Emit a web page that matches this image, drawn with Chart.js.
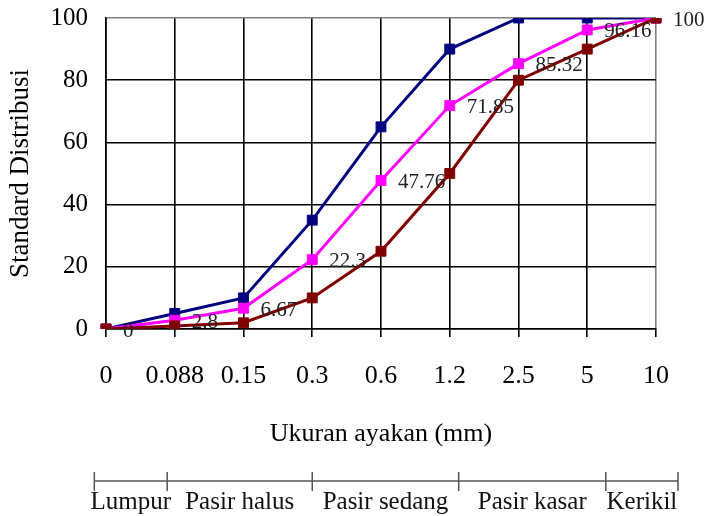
<!DOCTYPE html>
<html>
<head>
<meta charset="utf-8">
<script src="https://cdn.jsdelivr.net/npm/chart.js@4.4.1/dist/chart.umd.min.js"></script>
<style>
  html, body { margin: 0; padding: 0; background: #fff; }
</style>
</head>
<body>
<canvas id="chart" width="708" height="516"></canvas>
<script>
// ukuran ayakan (mm) dan persen lolos
const sieveSizes = ["0", "0.088", "0.15", "0.3", "0.6", "1.2", "2.5", "5", "10"];
const upperLimit = [0, 5, 10, 35, 65, 90, 100, 100, 100];
const sampleGrading = [0, 2.8, 6.67, 22.3, 47.76, 71.85, 85.32, 96.16, 100];
const lowerLimit = [0, 1, 2, 10, 25, 50, 80, 90, 100];
const yTicks = [0, 20, 40, 60, 80, 100];

// pembagian jenis butiran (batas dalam satuan indeks kategori)
const soilClasses = ["Lumpur", "Pasir halus", "Pasir sedang", "Pasir kasar", "Kerikil"];
const classEdges = [-0.17, 0.89, 3.0, 5.13, 7.27, 8.32];

const serif = "'Liberation Serif', 'Times New Roman', serif";

//label angka untuk garis magenta
const valueLabels = {
  id: "valueLabels",
  afterDatasetsDraw(chart) {
    const ctx = chart.ctx;
    const meta = chart.getDatasetMeta(1);
    ctx.save();
    ctx.font = "21px " + serif;
    ctx.fillStyle = "#222";
    ctx.textAlign = "left";
    ctx.textBaseline = "middle";
    meta.data.forEach((pt, i) => {
      ctx.fillText(String(sampleGrading[i]), pt.x + 17, pt.y + 2);
    });
    ctx.restore();
  },
};

//garis jenis tanah di bawah grafik
const soilBand = {
  id: "soilBand",
  afterDraw(chart) {
    const ctx = chart.ctx;
    const xs = chart.scales.x;
    const lineY = chart.height - 35;
    const px = classEdges.map((e) => xs.getPixelForValue(e));
    ctx.save();
    ctx.strokeStyle = "#555";
    ctx.lineWidth = 1.5;
    ctx.beginPath();
    ctx.moveTo(px[0], lineY);
    ctx.lineTo(px[px.length - 1], lineY);
    px.forEach((x) => {
      ctx.moveTo(x, lineY - 9);
      ctx.lineTo(x, lineY + 10);
    });
    ctx.stroke();
    ctx.font = "25px " + serif;
    ctx.fillStyle = "#111";
    ctx.textAlign = "center";
    ctx.textBaseline = "alphabetic";
    soilClasses.forEach((name, i) => {
      const mid = (px[i] + px[i + 1]) / 2;
      ctx.fillText(name, mid, lineY + 28);
    });
    ctx.restore();
  },
};

const data = {
  labels: sieveSizes,
  datasets: [
    {
      label: "Batas atas",
      data: upperLimit,
      borderColor: "#000080",
      backgroundColor: "#000080",
      order: 2,
    },
    {
      label: "Contoh",
      data: sampleGrading,
      borderColor: "#ff00ff",
      backgroundColor: "#ff00ff",
      order: 1,
    },
    {
      label: "Batas bawah",
      data: lowerLimit,
      borderColor: "#800000",
      backgroundColor: "#800000",
      order: 0,
    },
  ],
};

const config = {
  type: "line",
  data: data,
  options: {
    responsive: false,
    animation: false,
    layout: { padding: { left: 0, top: 18, right: 52, bottom: 66 } },
    elements: {
      line: { borderWidth: 3, tension: 0 },
      point: { pointStyle: "rect", radius: 7, borderWidth: 1, hoverRadius: 7 },
    },
    plugins: {
      legend: { display: false },
      tooltip: { enabled: false },
    },
    scales: {
      x: {
        offset: false,
        grid: {
          color: (c) => (c.index === sieveSizes.length - 1 ? "#808080" : "#000"),
          lineWidth: 1.6,
          tickColor: "#000",
          tickLength: 8,
        },
        border: { color: "#000", width: 1.6 },
        ticks: {
          color: "#000",
          font: { family: serif, size: 26 },
          padding: 24,
          maxRotation: 0,
          autoSkip: false,
        },
        title: {
          display: true,
          text: "Ukuran ayakan (mm)",
          color: "#000",
          font: { family: serif, size: 26 },
          padding: { top: 0, bottom: 0 },
        },
        afterFit: (scale) => {
          scale.height = 121;
        },
      },
      y: {
        min: 0,
        max: 100,
        afterBuildTicks: (scale) => {
          scale.ticks = yTicks.map((v) => ({ value: v }));
        },
        grid: {
          color: (c) => (c.tick && c.tick.value === 100 ? "#808080" : "#000"),
          lineWidth: 1.6,
          drawTicks: false,
        },
        border: { color: "#000", width: 1.6 },
        ticks: {
          color: "#000",
          font: { family: serif, size: 25 },
          padding: 18,
        },
        title: {
          display: true,
          text: "Standard Distribusi",
          color: "#000",
          font: { family: serif, size: 27 },
          padding: { top: 5, bottom: 0 },
        },
        afterFit: (scale) => {
          scale.width = 106;
          scale.paddingTop = 0;
          scale.paddingBottom = 0;
        },
      },
    },
  },
  plugins: [valueLabels, soilBand],
};

const chart = new Chart(document.querySelector("#chart"), config);
</script>
</body>
</html>
